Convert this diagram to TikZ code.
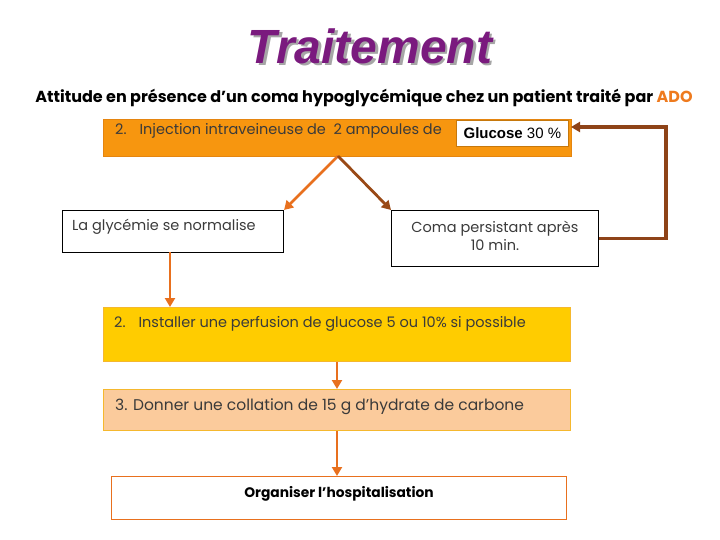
\documentclass[tikz,border=0pt]{standalone}
\usepackage{fontspec}
\setmainfont{Poppins}
\newfontfamily\titlefont{Liberation Sans}
\usetikzlibrary{arrows.meta,positioning,calc}
\definecolor{Purple}{HTML}{7A1A7E}
\definecolor{Orange}{HTML}{F7960F}
\definecolor{OrangeDark}{HTML}{E58510}
\definecolor{ArrowOrange}{HTML}{E8701E}
\definecolor{Brown}{HTML}{8E4318}
\definecolor{Yellow}{HTML}{FFCC00}
\definecolor{Peach}{HTML}{FBCB9C}
\definecolor{Gold}{HTML}{F5B82E}
\definecolor{Ink}{HTML}{3A3A3A}
\definecolor{OrangeText}{HTML}{EE7A1E}

\begin{document}
\begin{tikzpicture}[x=1pt,y=-1pt,
  box/.style={draw, line width=1pt, anchor=north west, inner sep=0pt},
  txt/.style={anchor=west, inner sep=0pt, text=Ink, font=\fontsize{14.5}{17}\selectfont},
  arr/.style={draw=ArrowOrange, line width=2.6pt, -{Triangle[length=9pt,width=10pt]}},
  brownarr/.style={draw=Brown, line width=2.8pt, line join=miter, -{Triangle[length=9pt,width=10pt]}}]
\useasboundingbox (0,0) rectangle (720,540);

% titre
\node[text=black!35, font=\titlefont\bfseries\itshape\fontsize{48}{50}\selectfont] (shadow) at (372.5,48.5) {Traitement};
\node[text=Purple, font=\titlefont\bfseries\itshape\fontsize{48}{50}\selectfont] (title) at (370,46) {Traitement};
\node[font=\bfseries\fontsize{16}{18}\selectfont] (subtitle) at (364,98)
  {Attitude en présence d'un coma hypoglycémique chez un patient traité par \textcolor{OrangeText}{ADO}};

% boites
\node[box, draw=OrangeDark, fill=Orange, minimum width=468pt, minimum height=37pt] (inj) at (103,119) {};
\node[box, draw=Orange!80!black, fill=white, line width=0.8pt, minimum width=112pt, minimum height=26pt] (glu) at (456,120) {};
\node[txt] (injtxt) at (115,131) {2.\hspace{0.9em}Injection intraveineuse de\ \ 2 ampoules de};
\node[anchor=center, inner sep=0pt, font=\titlefont\fontsize{15}{17}\selectfont] (glutxt) at (glu.center) {\textbf{Glucose} 30 \%};

\node[box, minimum width=221pt, minimum height=42pt] (norm) at (62,210) {};
\node[txt] (normtxt) at (72,227) {La glycémie se normalise};

\node[box, minimum width=207pt, minimum height=56pt] (coma) at (391,210) {};
\node[txt, anchor=center, align=center, font=\fontsize{14.5}{18}\selectfont] (comatxt) at (495,236) {Coma persistant après\\10 min.};

\node[box, draw=Gold, fill=Yellow, minimum width=467pt, minimum height=54pt] (perf) at (103,307) {};
\node[txt] (perftxt) at (114,324) {2.\hspace{0.9em}Installer une perfusion de glucose 5 ou 10\% si possible};

\node[box, draw=Gold, fill=Peach, minimum width=467pt, minimum height=41pt] (coll) at (103,389) {};
\node[txt, font=\fontsize{15.5}{18}\selectfont] (colltxt) at (115,407) {3. Donner une collation de 15 g d'hydrate de carbone};

\node[box, draw=ArrowOrange, line width=1.3pt, minimum width=455pt, minimum height=43pt] (hosp) at (111,476) {};
\node[font=\bfseries\fontsize{13.8}{16}\selectfont, inner sep=0pt] (hosptxt) at (339,494) {Organiser l'hospitalisation};

% fleches
\coordinate (split) at (338,156);
\coordinate (loop) at (666,127);
\coordinate (gluin) at (571,127);
\draw[arr] (split) -- (norm.north east);
\draw[brownarr, draw=Brown!90!orange] (split) -- (coma.north west);
\draw[arr] (170,252) -- (170,307);
\draw[arr] (perf.south -| 337,0) -- (coll.north -| 337,0);
\draw[arr] (coll.south -| 337,0) -- (hosp.north -| 337,0);
\draw[brownarr, line width=3.2pt] (coma.east) -| (loop) -- (gluin);
\end{tikzpicture}
\end{document}
